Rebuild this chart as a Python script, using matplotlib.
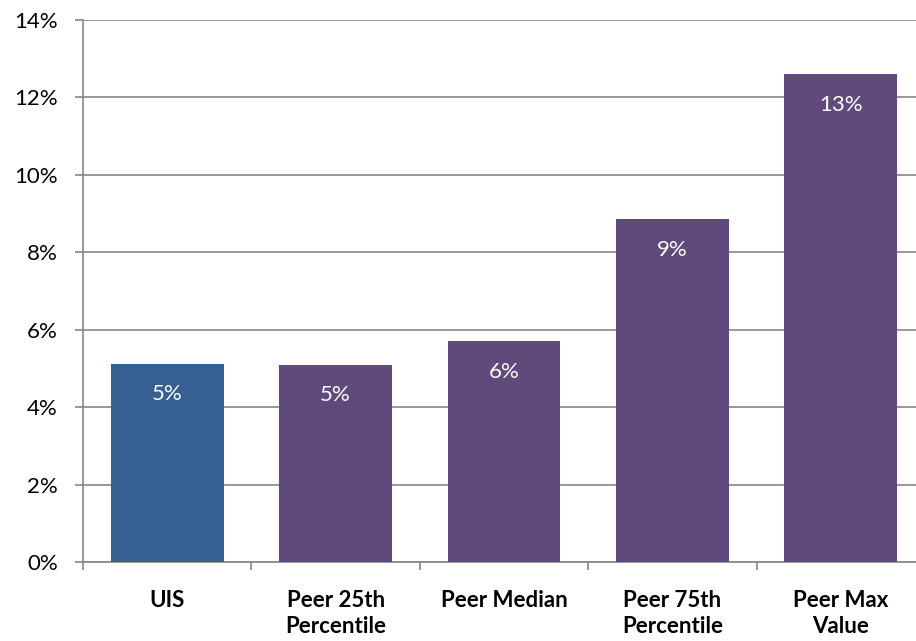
import matplotlib
matplotlib.use("Agg")
import matplotlib.pyplot as plt
from matplotlib.ticker import MultipleLocator, FuncFormatter

# Data
categories = ["UIS", "Peer 25th\nPercentile", "Peer Median", "Peer 75th\nPercentile", "Peer Max\nValue"]
values = [5.12, 5.10, 5.70, 8.86, 12.60]
labels = ["5%", "5%", "6%", "9%", "13%"]
colors = ["#366092", "#604A7B", "#604A7B", "#604A7B", "#604A7B"]

plt.rcParams["font.family"] = ["Lato", "DejaVu Sans"]
grid_color = "#868686"

fig = plt.figure(figsize=(9.16, 6.41), dpi=100)
# axes runs past the right edge of the figure, as in the original
ax = fig.add_axes([83 / 916, 79 / 641, 842 / 916, 542 / 641])

x = list(range(len(categories)))
bars = ax.bar(x, values, width=0.67, color=colors, zorder=3)

for b, lab in zip(bars, labels):
    ax.annotate(lab, (b.get_x() + b.get_width() / 2, b.get_height()),
                xytext=(0, -22), textcoords="offset points",
                ha="center", va="center", color="white", fontsize=16, zorder=4)

ax.set_xlim(-0.5, len(categories) - 0.5)
ax.set_ylim(0, 14)
ax.yaxis.set_major_locator(MultipleLocator(2))
ax.yaxis.set_major_formatter(FuncFormatter(lambda v, p: f"{v:.0f}%"))
ax.grid(axis="y", color=grid_color, linewidth=1.2, zorder=0)

# category labels without ticks, separators as minor ticks
ax.set_xticks(x)
ax.set_xticklabels(categories, fontweight="bold", fontsize=16, linespacing=1.3)
ax.set_xticks([i - 0.5 for i in range(len(categories) + 1)], minor=True)
ax.tick_params(axis="x", which="major", length=0, pad=20)
ax.tick_params(axis="x", which="minor", length=6, color=grid_color, width=1.2)
ax.tick_params(axis="y", length=6, color=grid_color, width=1.2, pad=12, labelsize=16)

for side in ["top", "right"]:
    ax.spines[side].set_visible(False)
for side in ["left", "bottom"]:
    ax.spines[side].set_color(grid_color)
    ax.spines[side].set_linewidth(1.2)

fig.savefig("out.png", dpi=100)
